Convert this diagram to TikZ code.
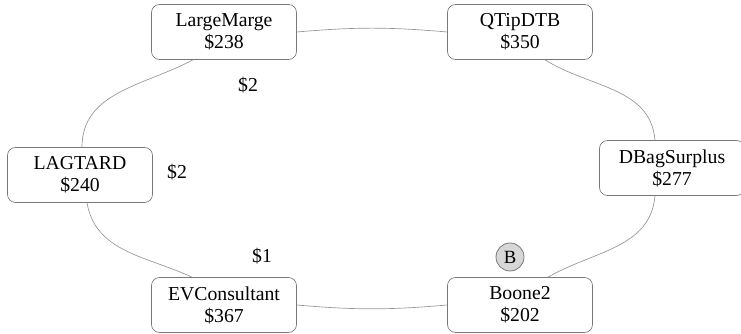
\documentclass[tikz,border=0pt]{standalone}
\usepackage{fontspec}
\setmainfont{Liberation Serif}
\usepackage{tikz}
\usetikzlibrary{positioning, calc}
\definecolor{boxgray}{RGB}{120,120,120}
\definecolor{linegray}{RGB}{150,150,150}
\definecolor{badgegray}{RGB}{215,215,215}

\tikzset{
  wallet/.style={draw=boxgray, line width=0.5pt, rounded corners=6pt, fill=white,
    minimum width=108.75pt, minimum height=41.25pt, align=center,
    font=\fontsize{14.8}{16.5}\selectfont, inner sep=1pt},
  fee/.style={font=\fontsize{14.8}{16.5}\selectfont, inner sep=1pt},
  badge/.style={circle, draw=boxgray, line width=0.6pt, fill=badgegray,
    minimum size=21pt, inner sep=0pt, font=\fontsize{14}{15}\selectfont},
  hop/.style={draw=linegray, line width=0.5pt}
}

\begin{document}
\begin{tikzpicture}[x=0.75pt, y=0.75pt]
  \useasboundingbox (0,0) rectangle (741,334);

  % nodi del giro
  \node[wallet] (lm)    at (224,302) {LargeMarge\\\$238};
  \node[wallet] (qt)    at (520,302) {QTipDTB\\\$350};
  \node[wallet] (lag)   at (80,159)  {LAGTARD\\\$240};
  \node[wallet] (dbs)   at (672,166) {DBagSurplus\\\$277};
  \node[wallet] (evc)   at (224,29)  {EVConsultant\\\$367};
  \node[wallet] (boone) at (520,29)  {Boone2\\\$202};

  % segnalino B
  \node[badge] (b) at (510,77) {B};

  % commissioni
  \node[fee] (f1) at (248,249) {\$2};
  \node[fee] (f2) at (177,162) {\$2};
  \node[fee] (f3) at (262,78)  {\$1};

  % archi dell'ellisse
  \draw[hop] (lm.east) to[out=5, in=175] (qt.west);
  \draw[hop] ($(qt.south)+(25,0)$) to[out=-32, in=95] ($(dbs.north)-(17,0)$);
  \draw[hop] ($(dbs.south)-(17,0)$) to[out=-95, in=30] ($(boone.north)+(28,0)$);
  \draw[hop] (boone.west) to[out=185, in=-5] (evc.east);
  \draw[hop] ($(evc.north)-(32,0)$) to[out=155, in=-80] ($(lag.south)+(7,0)$);
  \draw[hop] ($(lag.north)+(2,0)$) to[out=90, in=-152] ($(lm.south)-(31,0)$);
\end{tikzpicture}
\end{document}
